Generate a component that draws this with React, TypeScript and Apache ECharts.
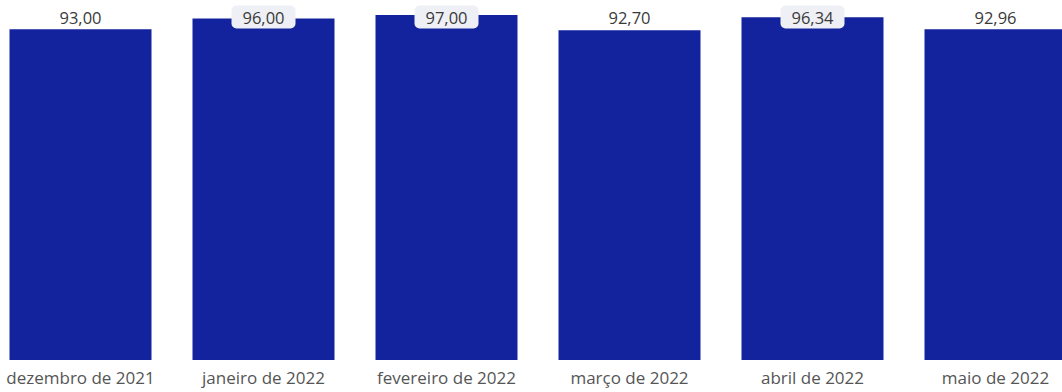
import React, { useEffect, useRef } from "react";
import * as echarts from "echarts";

const categories = [
  "dezembro de 2021",
  "janeiro de 2022",
  "fevereiro de 2022",
  "março de 2022",
  "abril de 2022",
  "maio de 2022",
];
const values = [93.0, 96.0, 97.0, 92.7, 96.34, 92.96];

const BAR_COLOR = "#13239d";
const FONT = "'Open Sans', 'Noto Sans', sans-serif";

export default function App() {
  const ref = useRef<HTMLDivElement>(null);
  useEffect(() => {
    if (!ref.current) return;
    document.body.style.overflow = "hidden";
    const chart = echarts.init(ref.current, null, { renderer: "svg" });
    const data = values.map((v) => ({
      value: v,
      label:
        v > 95
          ? {
              backgroundColor: "#eef0f6",
              borderRadius: 5,
              padding: [2, 11, 4, 11],
            }
          : { padding: [2, 11, 4, 11] },
    }));
    chart.setOption({
      animation: false,
      backgroundColor: "#ffffff",
      grid: { left: 0, right: 0, top: 4.3, bottom: 32, containLabel: false },
      xAxis: {
        type: "category",
        data: categories,
        axisLine: { show: false },
        axisTick: { show: false },
        axisLabel: {
          color: "#555555",
          fontSize: 17,
          fontFamily: FONT,
          margin: 9,
          interval: 0,
        },
      },
      yAxis: {
        type: "value",
        min: 0,
        max: 100,
        show: false,
        splitLine: { show: false },
      },
      series: [
        {
          type: "bar",
          data,
          barWidth: 142,
          itemStyle: { color: BAR_COLOR },
          label: {
            show: true,
            position: "top",
            color: "#3a3a3a",
            fontSize: 16.5,
            fontFamily: FONT,
            formatter: (p: any) => Number(p.value).toFixed(2).replace(".", ","),
          },
          labelLayout: (params: any) => ({
            x: params.rect.x + params.rect.width / 2,
            y: 17,
            align: "center",
            verticalAlign: "middle",
          }),
        },
      ],
    });
    return () => chart.dispose();
  }, []);
  return (
    <div
      ref={ref}
      style={{ position: "fixed", left: -11.5, top: 0, width: 1098, height: 392 }}
    />
  );
}
